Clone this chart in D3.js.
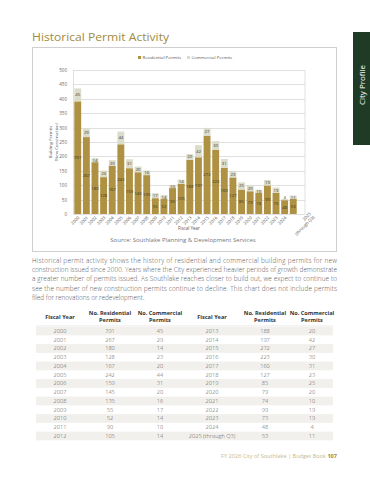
<!DOCTYPE html>
<html>
<head>
<meta charset="utf-8">
<script src="https://cdn.jsdelivr.net/npm/d3@7"></script>
<style>
	body { margin: 0; background: #fff; }
	text { font-family: "Open Sans", sans-serif; }
</style>
</head>
<body>
<div id="page"></div>
<script>

// permit counts by fiscal year
var years = ['2000','2001','2002','2003','2004','2005','2006','2007','2008','2009','2010','2011','2012',
	'2013','2014','2015','2016','2017','2018','2019','2020','2021','2022','2023','2024','2025'];
var residential = [391, 267, 180, 128, 167, 242, 159, 145, 135, 55, 52, 90, 105,
	188, 197, 272, 223, 160, 127, 85, 79, 74, 99, 73, 48, 53];
var commercial = [45, 29, 14, 23, 20, 44, 31, 20, 16, 17, 14, 10, 14,
	20, 42, 27, 30, 31, 23, 25, 20, 10, 19, 19, 4, 11];
var yTicks = [0, 50, 100, 150, 200, 250, 300, 350, 400, 450, 500];
var yearLabels = years.slice(0, 25).map(function(d) { return [d]; }).concat([['2025', '(through Q3)']]);
var tableYears = years.slice(0, 25).concat(['2025 (through Q3)']);

var paragraph = [
	'Historical permit activity shows the history of residential and commercial building permits for new',
	'construction issued since 2000. Years where the City experienced heavier periods of growth demonstrate',
	'a greater number of permits issued. As Southlake reaches closer to build out, we expect to continue to',
	'see the number of new construction permits continue to decline. This chart does not include permits',
	'filed for renovations or redevelopment.'
];

var resColor = '#ae9142';
var comColor = '#dcdcca';
var gold = '#a08c40';

var svg = d3.select('#page').append('svg')
	.attr('width', 370)
	.attr('height', 480);

// side tab
svg.append('rect').attr('x', 353).attr('y', 32).attr('width', 17).attr('height', 113).attr('fill', '#1f3b25');
svg.append('text')
	.attr('transform', 'translate(364.5,85) rotate(-90)')
	.attr('text-anchor', 'middle')
	.style('font-size', '8px')
	.style('fill', '#fff')
	.text('City Profile');

// title
svg.append('text')
	.attr('x', 32).attr('y', 41)
	.attr('textLength', 137).attr('lengthAdjust', 'spacingAndGlyphs')
	.style('font-size', '11px')
	.style('font-weight', 500)
	.style('fill', gold)
	.text('Historical Permit Activity');

// chart frame
svg.append('rect')
	.attr('x', 32.5).attr('y', 47.5).attr('width', 304).attr('height', 204)
	.attr('fill', 'none').attr('stroke', '#cfcfcf');

// legend
var legendData = [{label: 'Residential Permits', color: resColor, x: 138}, {label: 'Commercial Permits', color: comColor, x: 187}];
var legend = svg.selectAll('.legend').data(legendData).enter().append('g')
	.attr('class', 'legend')
	.attr('transform', function(d) { return 'translate(' + d.x + ',58)'; });
legend.append('rect').attr('x', 0).attr('y', -2).attr('width', 3).attr('height', 3).attr('fill', function(d) { return d.color; });
legend.append('text').attr('x', 4.5).attr('y', 1).style('font-size', '4.3px').style('fill', '#555')
	.text(function(d) { return d.label; });

var x = d3.scaleBand().domain(years).range([73, 298]).paddingInner(0.2).paddingOuter(0.15);
var y = d3.scaleLinear().domain([0, 500]).range([214, 70]);

var plot = svg.append('g');

// gridlines
plot.selectAll('.grid').data(yTicks).enter().append('line')
	.attr('x1', 73).attr('x2', 305)
	.attr('y1', function(d) { return Math.round(y(d)) + 0.5; })
	.attr('y2', function(d) { return Math.round(y(d)) + 0.5; })
	.attr('stroke', '#d2d2d2').attr('stroke-width', 0.7);
plot.append('line').attr('x1', 73.5).attr('x2', 73.5).attr('y1', 70).attr('y2', 214).attr('stroke', '#d2d2d2').attr('stroke-width', 0.7);
plot.append('line').attr('x1', 305).attr('x2', 305).attr('y1', 70).attr('y2', 214).attr('stroke', '#d2d2d2').attr('stroke-width', 0.7);

// y axis labels
var yAxis = d3.axisLeft(y).tickValues(yTicks).tickSize(0).tickPadding(6);
svg.append('g').attr('transform', 'translate(73,0)').call(yAxis)
	.call(function(g) { g.select('.domain').remove(); })
	.selectAll('text').style('font-size', '4.5px').style('fill', '#666').style('font-family', '"Open Sans", sans-serif');

svg.append('text')
	.attr('transform', 'translate(52,142) rotate(-90)')
	.attr('text-anchor', 'middle')
	.style('font-size', '4.3px').style('fill', '#555')
	.selectAll('tspan').data(['Building Permits', '(New Construction)']).enter().append('tspan')
	.attr('x', 0).attr('dy', function(d, i) { return i ? '1.3em' : 0; })
	.text(function(d) { return d; });

// bars
var bars = plot.selectAll('.bar').data(years).enter().append('g').attr('class', 'bar');
bars.append('rect')
	.attr('x', function(d) { return x(d); })
	.attr('width', x.bandwidth())
	.attr('y', function(d, i) { return y(residential[i]); })
	.attr('height', function(d, i) { return y(0) - y(residential[i]); })
	.attr('fill', resColor);
bars.append('rect')
	.attr('x', function(d) { return x(d); })
	.attr('width', x.bandwidth())
	.attr('y', function(d, i) { return y(residential[i] + commercial[i]); })
	.attr('height', function(d, i) { return y(residential[i]) - y(residential[i] + commercial[i]); })
	.attr('fill', comColor);
bars.append('text')
	.attr('x', function(d) { return x(d) + x.bandwidth() / 2; })
	.attr('y', function(d, i) { return (y(0) + y(residential[i])) / 2; })
	.attr('dy', '.35em').attr('text-anchor', 'middle')
	.style('font-size', '4.3px').style('fill', '#3a3320')
	.text(function(d, i) { return residential[i]; });
bars.append('text')
	.attr('x', function(d) { return x(d) + x.bandwidth() / 2; })
	.attr('y', function(d, i) {
		var mid = (y(residential[i]) + y(residential[i] + commercial[i])) / 2;
		return commercial[i] < 8 ? y(residential[i] + commercial[i]) - 2 : mid;
	})
	.attr('dy', '.35em').attr('text-anchor', 'middle')
	.style('font-size', '4.3px').style('fill', '#3a3a30')
	.text(function(d, i) { return commercial[i]; });

// x labels
var xl = plot.selectAll('.xlabel').data(yearLabels).enter().append('text')
	.attr('class', 'xlabel')
	.attr('transform', function(d, i) {
		var cx = x(years[i]) + x.bandwidth() / 2 + 1;
		if (d.length > 1) cx += 16;
		return 'translate(' + cx + ',' + (d.length > 1 ? 213 : 217) + ') rotate(-45)';
	})
	.attr('text-anchor', 'end')
	.style('font-size', '4.3px').style('fill', '#555');
xl.selectAll('tspan').data(function(d) { return d; }).enter().append('tspan')
	.attr('x', 0).attr('dy', function(d, i) { return i ? '1.15em' : '.35em'; })
	.text(function(d) { return d; });

svg.append('text').attr('x', 189).attr('y', 230).attr('text-anchor', 'middle')
	.style('font-size', '4.5px').style('fill', '#555').text('Fiscal Year');

svg.append('text').attr('x', 183).attr('y', 242).attr('text-anchor', 'middle')
	.style('font-size', '6px').style('fill', '#777').text('Source: Southlake Planning & Development Services');

// paragraph
svg.selectAll('.para').data(paragraph).enter().append('text')
	.attr('x', 32).attr('y', function(d, i) { return 263 + i * 9.2; })
	.attr('textLength', function(d, i) { return i < paragraph.length - 1 ? 305 : null; })
	.attr('lengthAdjust', 'spacing')
	.style('font-size', '6.4px').style('font-weight', 300).style('fill', '#555')
	.text(function(d) { return d; });

// table
var colX = [60, 110, 160, 212, 265, 312];
var headers = [['Fiscal Year'], ['No. Residential', 'Permits'], ['No. Commercial', 'Permits'],
	['Fiscal Year'], ['No. Residential', 'Permits'], ['No. Commercial', 'Permits']];
var head = svg.selectAll('.th').data(headers).enter().append('text')
	.attr('text-anchor', 'middle')
	.attr('transform', function(d, i) { return 'translate(' + colX[i] + ',' + (d.length > 1 ? 315 : 319) + ')'; })
	.style('font-size', '5.6px').style('font-weight', 700).style('fill', '#333');
head.selectAll('tspan').data(function(d) { return d; }).enter().append('tspan')
	.attr('x', 0).attr('dy', function(d, i) { return i ? '1.25em' : 0; })
	.text(function(d) { return d; });
svg.append('line').attr('x1', 36).attr('x2', 333).attr('y1', 325.8).attr('y2', 325.8).attr('stroke', '#ddd').attr('stroke-width', 0.5);

var rowY = d3.scaleLinear().domain([0, 12]).range([331, 436]);
var rows = d3.range(13);
svg.selectAll('.rowbg').data(rows.filter(function(r) { return r % 2 === 0; })).enter().append('rect')
	.attr('x', 36).attr('width', 297)
	.attr('y', function(r) { return rowY(r) - 4.4; })
	.attr('height', 8.75)
	.attr('fill', '#f2f0ec');

var cells = [];
rows.forEach(function(r) {
	var vals = [tableYears[r], residential[r], commercial[r], tableYears[r + 13], residential[r + 13], commercial[r + 13]];
	vals.forEach(function(v, c) { cells.push({r: r, c: c, v: v}); });
});
svg.selectAll('.td').data(cells).enter().append('text')
	.attr('x', function(d) { return colX[d.c]; })
	.attr('y', function(d) { return rowY(d.r); })
	.attr('dy', '.35em').attr('text-anchor', 'middle')
	.style('font-size', '5.6px').style('font-weight', 300).style('fill', '#555')
	.text(function(d) { return d.v; });

// footer
var foot = svg.append('text').attr('x', 337).attr('y', 458).attr('text-anchor', 'end')
	.style('font-size', '5.6px');
foot.append('tspan').style('fill', '#c4b98c').text('FY 2026 City of Southlake  |  Budget Book  ');
foot.append('tspan').style('fill', gold).style('font-weight', 700).text('107');

</script>
</body>
</html>
